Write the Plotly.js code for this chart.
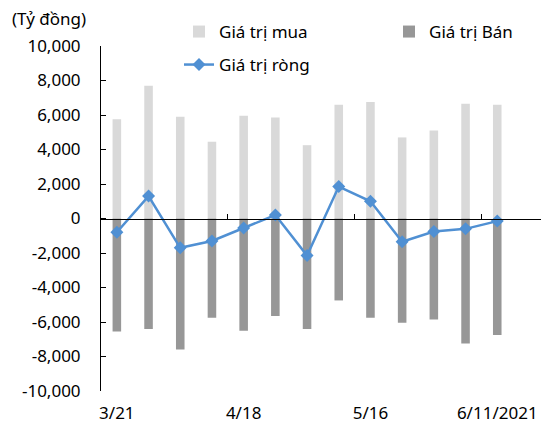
<!DOCTYPE html>
<html>
<head>
<meta charset="utf-8">
<script src="https://cdn.plot.ly/plotly-3.0.1.min.js"></script>
<style>html,body{margin:0;padding:0;background:#fff;}#chart{width:541px;height:425px;}</style>
</head>
<body>
<div id="chart"></div>
<script>
// Weekly categories (index 0..12); only every 4th is labelled
var categories = [0,1,2,3,4,5,6,7,8,9,10,11,12];
var tickPositions = [0,4,8,12];
var tickLabels = ['3/21','4/18','5/16','6/11/2021'];
// Values (Tỷ đồng)
var buyValues  = [5750, 7700, 5900, 4450, 5950, 5850, 4250, 6600, 6750, 4700, 5100, 6650, 6600];
var sellValues = [-6550, -6400, -7600, -5750, -6500, -5650, -6400, -4750, -5750, -6050, -5850, -7250, -6750];
var netValues  = [-800, 1300, -1700, -1300, -550, 200, -2150, 1850, 1000, -1350, -750, -600, -150];
var yTickVals = [-10000,-8000,-6000,-4000,-2000,0,2000,4000,6000,8000,10000];
var yTickText = ['-10,000','-8,000','-6,000','-4,000','-2,000','0','2,000','4,000','6,000','8,000','10,000'];
var boundaryTicks = [3.5, 7.5, 11.5];

var FONT = 'Noto Sans, DejaVu Sans, sans-serif';
var xRange = [-0.5, 13.38];

var traces = [
  {type:'bar', name:'Giá trị mua', x:categories, y:buyValues, width:0.27,
   marker:{color:'#d9d9d9'}, legend:'legend'},
  {type:'bar', name:'Giá trị Bán', x:categories, y:sellValues, width:0.27,
   marker:{color:'#979797'}, legend:'legend2'},
  {type:'scatter', mode:'lines+markers', name:'Giá trị ròng', x:categories, y:netValues,
   xaxis:'x2', yaxis:'y',
   line:{color:'#5090d3', width:2.5},
   marker:{symbol:'diamond', size:10, color:'#5090d3'}, legend:'legend3'}
];

function legendAt(xp, yp) {
  return {
    orientation:'h', x:(xp-101)/440, xanchor:'left', y:(391-yp)/345, yanchor:'middle',
    font:{family:FONT, size:17, color:'#000'}, bgcolor:'rgba(0,0,0,0)'
  };
}

var layout = {
  width:541, height:425,
  margin:{l:101, r:0, t:46, b:34},
  paper_bgcolor:'#ffffff', plot_bgcolor:'#ffffff',
  font:{family:FONT, size:17, color:'#000'},
  barmode:'relative',
  showlegend:true,
  xaxis:{
    range:xRange, tickmode:'array', tickvals:tickPositions, ticktext:tickLabels,
    showline:false, showgrid:false, zeroline:false, ticks:'',
    ticklabelstandoff:10, tickfont:{family:FONT, size:17, color:'#000'}
  },
  xaxis2:{
    range:xRange, overlaying:'x', anchor:'free', position:0.5,
    showline:true, linecolor:'#000', linewidth:1,
    tickmode:'array', tickvals:boundaryTicks, ticks:'inside', ticklen:5, tickcolor:'#000',
    showticklabels:false, showgrid:false, zeroline:false
  },
  yaxis:{
    range:[-10000,10000], tickmode:'array', tickvals:yTickVals, ticktext:yTickText,
    showline:true, linecolor:'#000', linewidth:1,
    ticks:'inside', ticklen:5, tickcolor:'#000',
    showgrid:false, zeroline:false, ticklabelstandoff:16,
    tickfont:{family:FONT, size:17, color:'#000'}
  },
  legend: legendAt(179, 32),
  legend2: legendAt(389, 32),
  legend3: legendAt(179, 65),
  annotations:[
    {text:'(Tỷ đồng)', xref:'paper', yref:'paper', x:-0.207, y:1.081,
     xanchor:'left', yanchor:'middle', showarrow:false,
     font:{family:FONT, size:17, color:'#000'}}
  ]
};

Plotly.newPlot('chart', traces, layout, {displayModeBar:false, staticPlot:true});
</script>
</body>
</html>
